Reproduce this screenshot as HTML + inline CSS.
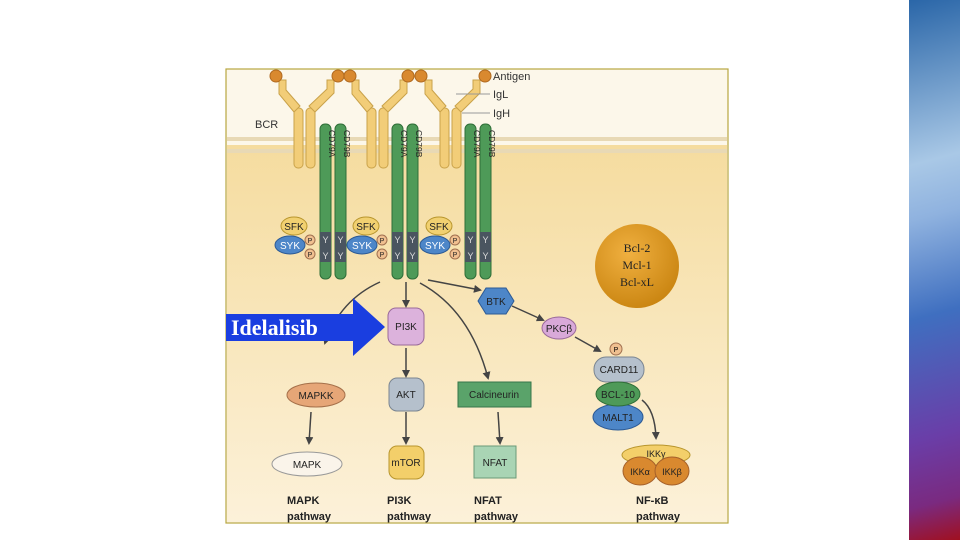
<!DOCTYPE html>
<html><head><meta charset="utf-8"><style>
body{margin:0;width:960px;height:540px;background:#fff;overflow:hidden;position:relative}
.bar{position:absolute;left:909px;top:0;width:51px;height:540px;background:linear-gradient(165deg,#2a66a8 0%,#a9c8e6 30%,#8fb2df 40%,#3f6fc0 58%,#6a3ea8 80%,#7a2a80 92%,#a01020 100%)}
svg text{font-family:"Liberation Sans",sans-serif}
</style></head><body>
<div class="bar"></div>
<svg width="960" height="540" style="position:absolute;left:0;top:0">
<defs>
<linearGradient id="cy" x1="0" y1="0" x2="0" y2="1"><stop offset="0" stop-color="#f5dc9f"/><stop offset="1" stop-color="#fcf1d9"/></linearGradient>
<radialGradient id="bcl" cx="0.4" cy="0.35" r="0.7"><stop offset="0" stop-color="#f0b040"/><stop offset="1" stop-color="#c98410"/></radialGradient>
<marker id="ah" markerWidth="8" markerHeight="8" refX="6" refY="4" orient="auto" markerUnits="userSpaceOnUse"><path d="M0,0 L8,4 L0,8 z" fill="#444"/></marker>
<g id="ab">
<g fill="#f2cd78" stroke="#c9a24a" stroke-width="1">
<rect x="294" y="108" width="9" height="60" rx="4"/>
<rect x="306" y="108" width="9" height="60" rx="4"/>
<path d="M294,112 L279,94 L279,80 L286,80 L286,90 L300,106 z"/>
<path d="M315,112 L334,93 L334,80 L327,80 L327,89 L309,106 z"/>
</g>
</g>
<g id="cd">
<rect x="320" y="124" width="11" height="155" rx="5" fill="#4e9a58" stroke="#2f6e38"/>
<rect x="335" y="124" width="11" height="155" rx="5" fill="#4e9a58" stroke="#2f6e38"/>
<rect x="320" y="232" width="11" height="30" fill="#4a5560"/>
<rect x="335" y="232" width="11" height="30" fill="#4a5560"/>
<text x="325.5" y="243" text-anchor="middle" fill="#ddd" font-size="9">Y</text><text x="340.5" y="243" text-anchor="middle" fill="#ddd" font-size="9">Y</text>
<text x="325.5" y="259" text-anchor="middle" fill="#ddd" font-size="9">Y</text><text x="340.5" y="259" text-anchor="middle" fill="#ddd" font-size="9">Y</text>
<text transform="translate(329,130) rotate(90)" font-size="8.5" fill="#222">CD79A</text>
<text transform="translate(344,130) rotate(90)" font-size="8.5" fill="#222">CD79B</text>
<ellipse cx="294" cy="226" rx="13" ry="9" fill="#f1d070" stroke="#b8962e"/>
<text x="294" y="230" text-anchor="middle" font-size="10" fill="#222">SFK</text>
<ellipse cx="290" cy="245" rx="15" ry="9" fill="#4d86c8" stroke="#2c5a95"/>
<text x="290" y="249" text-anchor="middle" font-size="10" fill="#fff">SYK</text>
<circle cx="310" cy="240" r="5" fill="#f0c090" stroke="#a07050"/><text x="310" y="243" text-anchor="middle" font-size="7" fill="#222">P</text>
<circle cx="310" cy="254" r="5" fill="#f0c090" stroke="#a07050"/><text x="310" y="257" text-anchor="middle" font-size="7" fill="#222">P</text>
</g>
</defs>
<rect x="226" y="69" width="502" height="454" fill="#fcf7ea" stroke="#b8a640" stroke-width="1.2"/>
<rect x="227" y="145" width="500" height="377" fill="url(#cy)"/>
<rect x="227" y="137" width="500" height="4" fill="#e8d9b5"/>
<rect x="227" y="149" width="500" height="4" fill="#e8d9b5"/>
<use href="#ab"/>
<use href="#ab" x="73" y="0"/>
<use href="#ab" x="146" y="0"/>
<line x1="456" y1="94" x2="490" y2="94" stroke="#999"/>
<line x1="462" y1="113" x2="490" y2="113" stroke="#999"/>
<g fill="#d9892f" stroke="#b06a20"><circle cx="276" cy="76" r="6"/><circle cx="338" cy="76" r="6"/><circle cx="350" cy="76" r="6"/><circle cx="408" cy="76" r="6"/><circle cx="421" cy="76" r="6"/><circle cx="485" cy="76" r="6"/></g>
<text x="493" y="80" font-size="11" fill="#333">Antigen</text>
<text x="493" y="98" font-size="11" fill="#333">IgL</text>
<text x="493" y="117" font-size="11" fill="#333">IgH</text>
<text x="255" y="128" font-size="11" fill="#333">BCR</text>
<use href="#cd"/>
<use href="#cd" x="72" y="0"/>
<use href="#cd" x="145" y="0"/>
<circle cx="637" cy="266" r="42" fill="url(#bcl)"/>
<g font-size="12" text-anchor="middle" fill="#222"><text x="637" y="252" style="font-family:'Liberation Serif',serif">Bcl-2</text><text x="637" y="269" style="font-family:'Liberation Serif',serif">Mcl-1</text><text x="637" y="286" style="font-family:'Liberation Serif',serif">Bcl-xL</text></g>
<g stroke="#444" stroke-width="1.5" fill="none" marker-end="url(#ah)">
<path d="M380,282 Q340,300 325,343"/>
<line x1="406" y1="282" x2="406" y2="306"/>
<path d="M420,283 Q470,310 488,378"/>
<line x1="428" y1="280" x2="480" y2="290"/>
<line x1="512" y1="306" x2="543" y2="320"/>
<line x1="575" y1="337" x2="600" y2="351"/>
<line x1="406" y1="348" x2="406" y2="376"/>
<line x1="406" y1="412" x2="406" y2="443"/>
<line x1="311" y1="412" x2="309" y2="443"/>
<line x1="498" y1="412" x2="500" y2="443"/>
<path d="M642,400 Q655,410 656,438"/>
</g>
<polygon points="486,288 506,288 514,301 506,314 486,314 478,301" fill="#4d86c8" stroke="#2c5a95"/>
<text x="496" y="305" text-anchor="middle" font-size="10" fill="#222">BTK</text>
<ellipse cx="559" cy="328" rx="17" ry="11" fill="#d9a9d9" stroke="#9a6a9a"/>
<text x="559" y="332" text-anchor="middle" font-size="10" fill="#222">PKCβ</text>
<rect x="388" y="308" width="36" height="37" rx="8" fill="#dcb2dc" stroke="#9a6a9a"/>
<text x="406" y="330" text-anchor="middle" font-size="10" fill="#222">PI3K</text>
<rect x="389" y="378" width="35" height="33" rx="8" fill="#b5c0cc" stroke="#7a8591"/>
<text x="406" y="398" text-anchor="middle" font-size="10" fill="#222">AKT</text>
<rect x="389" y="446" width="35" height="33" rx="8" fill="#f3cf6a" stroke="#b8962e"/>
<text x="406" y="466" text-anchor="middle" font-size="10" fill="#222">mTOR</text>
<ellipse cx="316" cy="395" rx="29" ry="12" fill="#e6a677" stroke="#a5704a"/>
<text x="316" y="399" text-anchor="middle" font-size="10" fill="#222">MAPKK</text>
<ellipse cx="307" cy="464" rx="35" ry="12" fill="#faf4ea" stroke="#999"/>
<text x="307" y="468" text-anchor="middle" font-size="10" fill="#222">MAPK</text>
<rect x="458" y="382" width="73" height="25" fill="#5aa36a" stroke="#37764a"/>
<text x="494" y="398" text-anchor="middle" font-size="10" fill="#222">Calcineurin</text>
<rect x="474" y="446" width="42" height="32" fill="#a9d4b4" stroke="#6a9a78"/>
<text x="495" y="466" text-anchor="middle" font-size="10" fill="#222">NFAT</text>
<circle cx="616" cy="349" r="6" fill="#f0c090" stroke="#a07050"/><text x="616" y="352" text-anchor="middle" font-size="7">P</text>
<rect x="594" y="357" width="50" height="25" rx="12" fill="#b5c0cc" stroke="#7a8591"/>
<text x="619" y="373" text-anchor="middle" font-size="10" fill="#222">CARD11</text>
<ellipse cx="618" cy="417" rx="25" ry="13" fill="#4d86c8" stroke="#2c5a95"/>
<text x="618" y="421" text-anchor="middle" font-size="10" fill="#222">MALT1</text>
<ellipse cx="618" cy="394" rx="22" ry="12" fill="#4e9a58" stroke="#2f6e38"/>
<text x="618" y="398" text-anchor="middle" font-size="10" fill="#222">BCL-10</text>
<ellipse cx="656" cy="455" rx="34" ry="10" fill="#f3cf6a" stroke="#b8962e"/>
<text x="656" y="457" text-anchor="middle" font-size="9" fill="#222">IKKγ</text>
<ellipse cx="640" cy="471" rx="17" ry="14" fill="#d9892f" stroke="#a5602a"/>
<ellipse cx="672" cy="471" rx="17" ry="14" fill="#d9892f" stroke="#a5602a"/>
<text x="640" y="475" text-anchor="middle" font-size="9" fill="#222">IKKα</text>
<text x="672" y="475" text-anchor="middle" font-size="9" fill="#222">IKKβ</text>
<g font-size="11" font-weight="bold" fill="#222">
<text x="287" y="504">MAPK</text><text x="287" y="520">pathway</text>
<text x="387" y="504">PI3K</text><text x="387" y="520">pathway</text>
<text x="474" y="504">NFAT</text><text x="474" y="520">pathway</text>
<text x="636" y="504">NF-κB</text><text x="636" y="520">pathway</text>
</g>
<polygon points="226,314 353,314 353,298 385,327 353,356 353,341 226,341" fill="#1a3ee0"/>
<text x="231" y="335" font-size="22" font-weight="bold" fill="#fff" style="font-family:'Liberation Serif',serif">Idelalisib</text>
</svg>
</body></html>
